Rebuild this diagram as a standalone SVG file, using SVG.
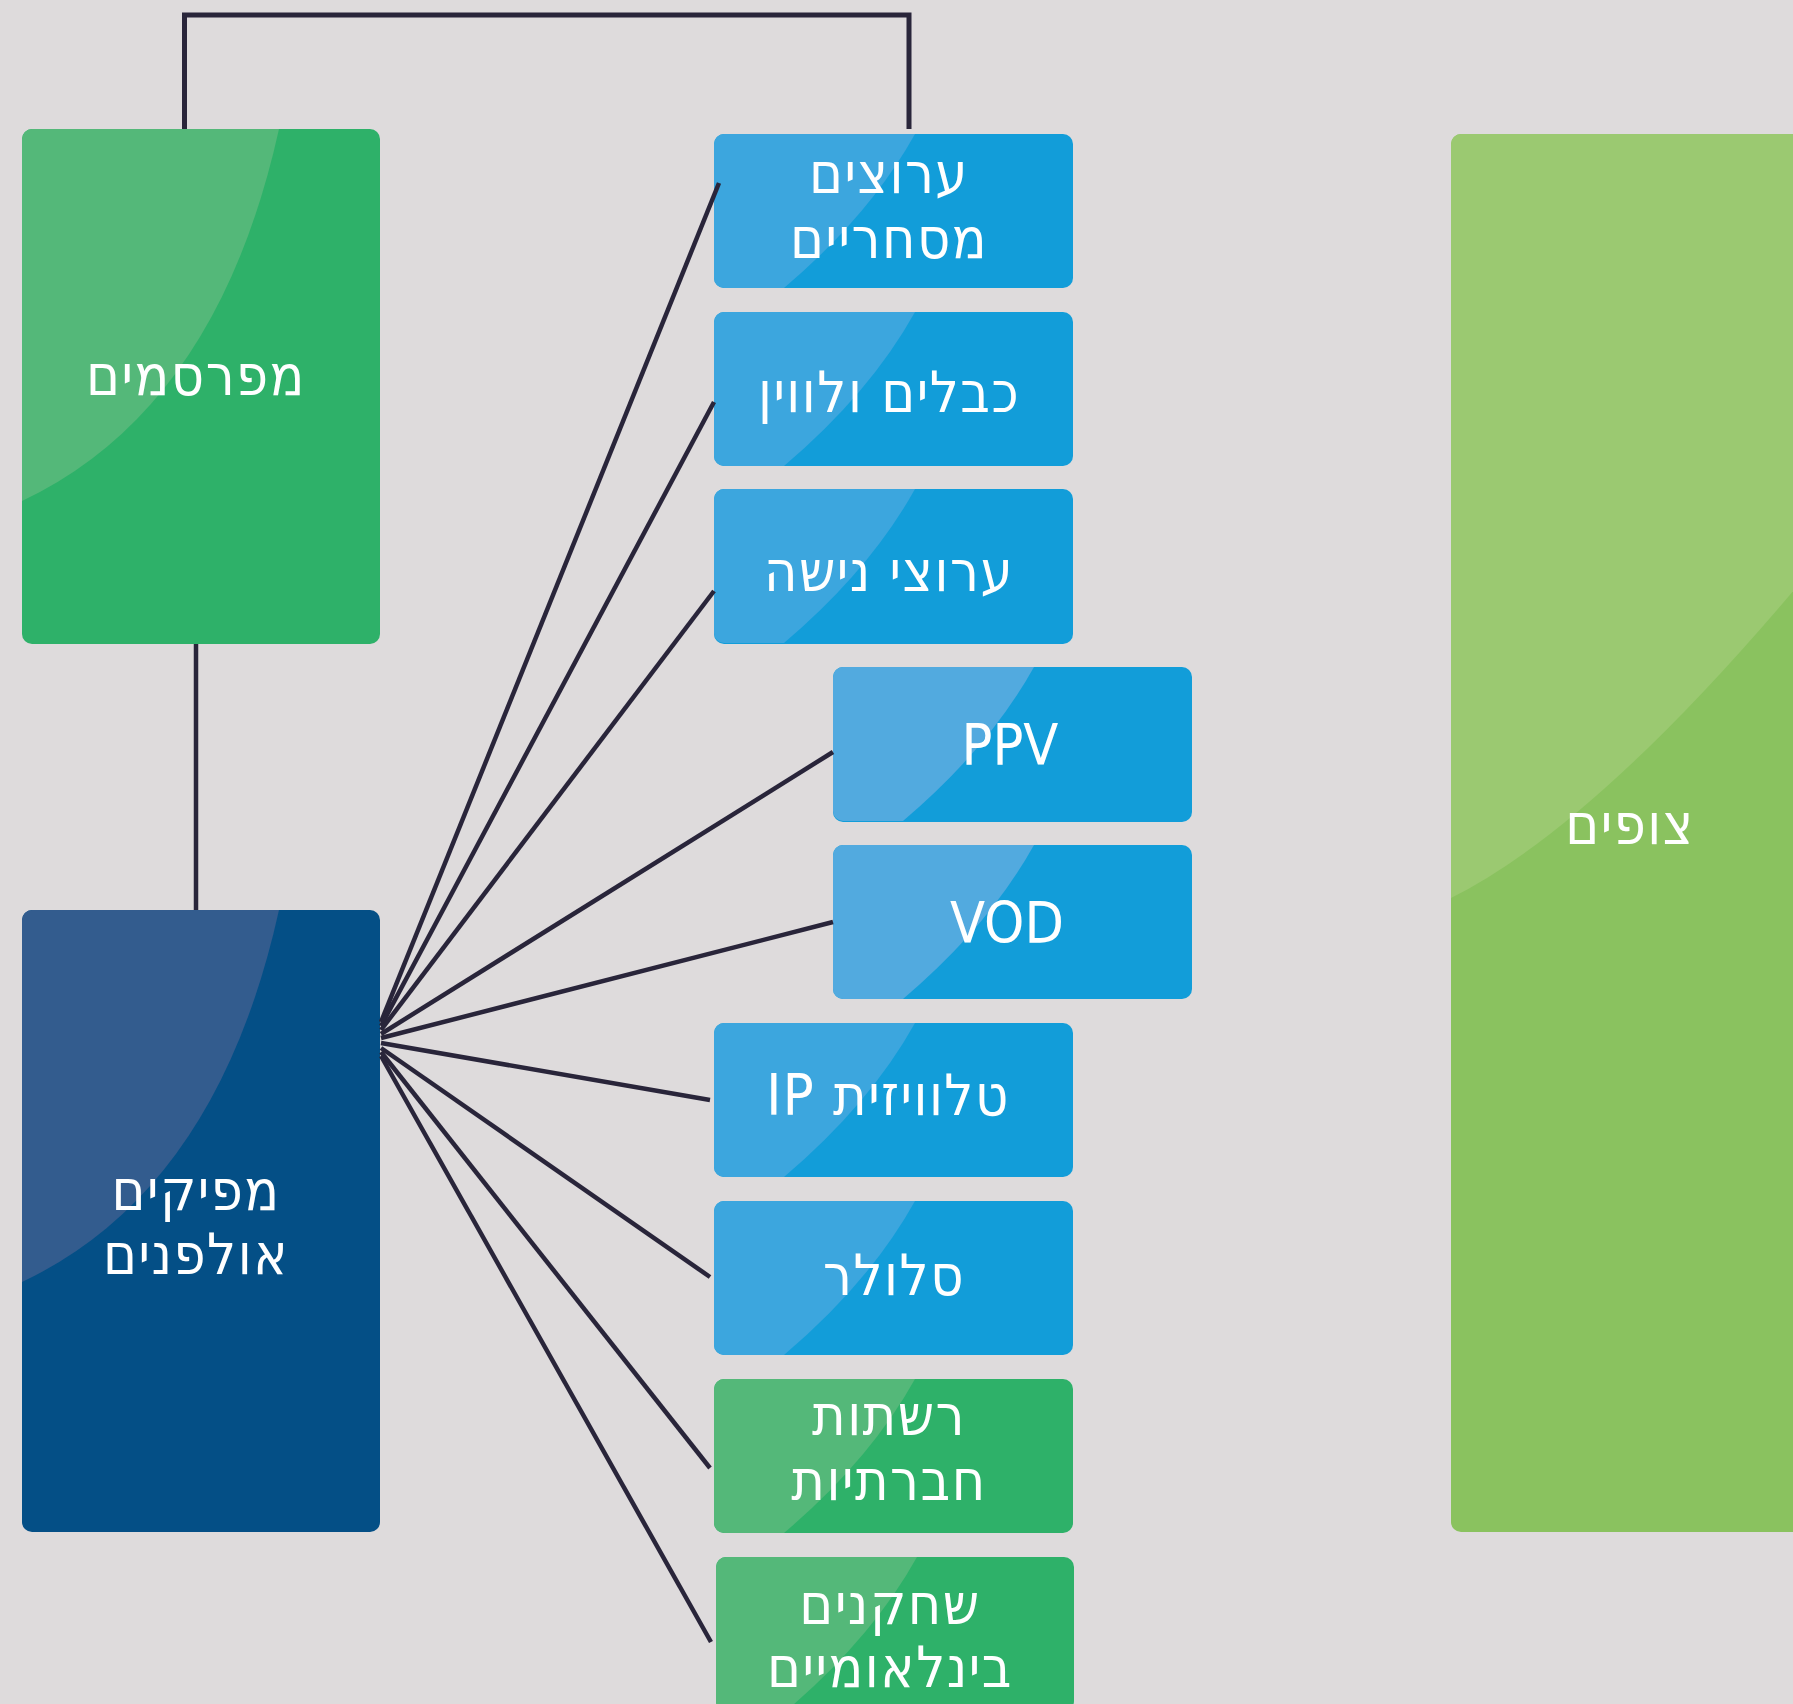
<svg xmlns="http://www.w3.org/2000/svg" xmlns:xlink="http://www.w3.org/1999/xlink" width="1793" height="1704" viewBox="0 0 1793 1704">
<style>
.lbl{font-family:"DejaVu Sans Condensed","DejaVu Sans",sans-serif;font-stretch:condensed;font-size:57px;fill:#FFFFFF;text-anchor:middle;direction:rtl;unicode-bidi:embed;letter-spacing:1.5px}
.lat{direction:ltr;letter-spacing:0}
.conn{stroke:#29253A;stroke-width:4.5;fill:none}
.blue{fill:#129DD9}.blueG{fill:#3CA6DE}.blueG2{fill:#52AADF}
.green{fill:#2EB169}.greenG{fill:#54B879}
.navy{fill:#044F86}.navyG{fill:#335C8E}
.lime{fill:#8AC25F}.limeG{fill:#9BC971}
</style>
<defs>
<path id="gs" d="M0,10 A10,10 0 0 1 10,0 L201,0 Q156,81 70,154 L10,154 A10,10 0 0 1 0,144 Z"/>
<path id="gt" d="M0,10 A10,10 0 0 1 10,0 L257,0 Q195,280 0,372 Z"/>
<path id="gv" d="M0,10 A10,10 0 0 1 10,0 L359,0 L359,437 Q148,690 0,764 Z"/>
</defs>
<rect x="0" y="0" width="1793" height="1704" fill="#DEDBDC"/>

<g id="advertisers" transform="translate(22,129)">
<rect class="green" width="358" height="515" rx="10"/>
<use xlink:href="#gt" class="greenG"/>
<text class="lbl" x="174" y="266">מפרסמים</text>
</g>

<g id="producers" transform="translate(22,910)">
<rect class="navy" width="358" height="622" rx="10"/>
<use xlink:href="#gt" class="navyG"/>
<text class="lbl" x="174" y="300">מפיקים</text>
<text class="lbl" x="174" y="364">אולפנים</text>
</g>

<g id="commercial-channels" transform="translate(714,134)">
<rect class="blue" width="359" height="154" rx="10"/>
<use xlink:href="#gs" class="blueG"/>
<text class="lbl" x="175" y="59">ערוצים</text>
<text class="lbl" x="175" y="124">מסחריים</text>
</g>

<g id="cable-satellite" transform="translate(714,312)">
<rect class="blue" width="359" height="154" rx="10"/>
<use xlink:href="#gs" class="blueG"/>
<text class="lbl" x="175" y="100">כבלים ולווין</text>
</g>

<g id="niche-channels" transform="translate(714,489)">
<rect class="blue" width="359" height="155" rx="10"/>
<use xlink:href="#gs" class="blueG"/>
<text class="lbl" x="175" y="102">ערוצי נישה</text>
</g>

<g id="ppv" transform="translate(833,667)">
<rect class="blue" width="359" height="155" rx="10"/>
<use xlink:href="#gs" class="blueG2"/>
<text class="lbl lat" x="177" y="98">PPV</text>
</g>

<g id="vod" transform="translate(833,845)">
<rect class="blue" width="359" height="154" rx="10"/>
<use xlink:href="#gs" class="blueG2"/>
<text class="lbl lat" x="174" y="98">VOD</text>
</g>

<g id="ip-tv" transform="translate(714,1023)">
<rect class="blue" width="359" height="154" rx="10"/>
<use xlink:href="#gs" class="blueG"/>
<text class="lbl" x="174" y="92">טלוויזית IP</text>
</g>

<g id="cellular" transform="translate(714,1201)">
<rect class="blue" width="359" height="154" rx="10"/>
<use xlink:href="#gs" class="blueG"/>
<text class="lbl" x="180" y="94">סלולר</text>
</g>

<g id="social-networks" transform="translate(714,1379)">
<rect class="green" width="359" height="154" rx="10"/>
<use xlink:href="#gs" class="greenG"/>
<text class="lbl" x="175" y="56">רשתות</text>
<text class="lbl" x="175" y="121">חברתיות</text>
</g>

<g id="international-players" transform="translate(716,1557)">
<rect class="green" width="358" height="154" rx="10"/>
<use xlink:href="#gs" class="greenG"/>
<text class="lbl" x="174" y="67">שחקנים</text>
<text class="lbl" x="174" y="130">בינלאומיים</text>
</g>

<g id="viewers" transform="translate(1451,134)">
<rect class="lime" width="359" height="1398" rx="10"/>
<use xlink:href="#gv" class="limeG"/>
<text class="lbl" x="179" y="710">צופים</text>
</g>

<g id="connectors">
<path class="conn" style="stroke-width:5" d="M184.5,129 V15 H909 V129"/>
<line class="conn" x1="196" y1="644" x2="196" y2="910"/>
<line class="conn" x1="381" y1="1022" x2="719" y2="183"/>
<line class="conn" x1="381" y1="1026" x2="714" y2="402"/>
<line class="conn" x1="381" y1="1030" x2="714" y2="591"/>
<line class="conn" x1="381" y1="1034" x2="833" y2="752"/>
<line class="conn" x1="381" y1="1038" x2="833" y2="922"/>
<line class="conn" x1="381" y1="1043" x2="710" y2="1100"/>
<line class="conn" x1="381" y1="1048" x2="710" y2="1277"/>
<line class="conn" x1="381" y1="1052" x2="710" y2="1468"/>
<line class="conn" x1="381" y1="1056" x2="711" y2="1642"/>
</g>
</svg>
